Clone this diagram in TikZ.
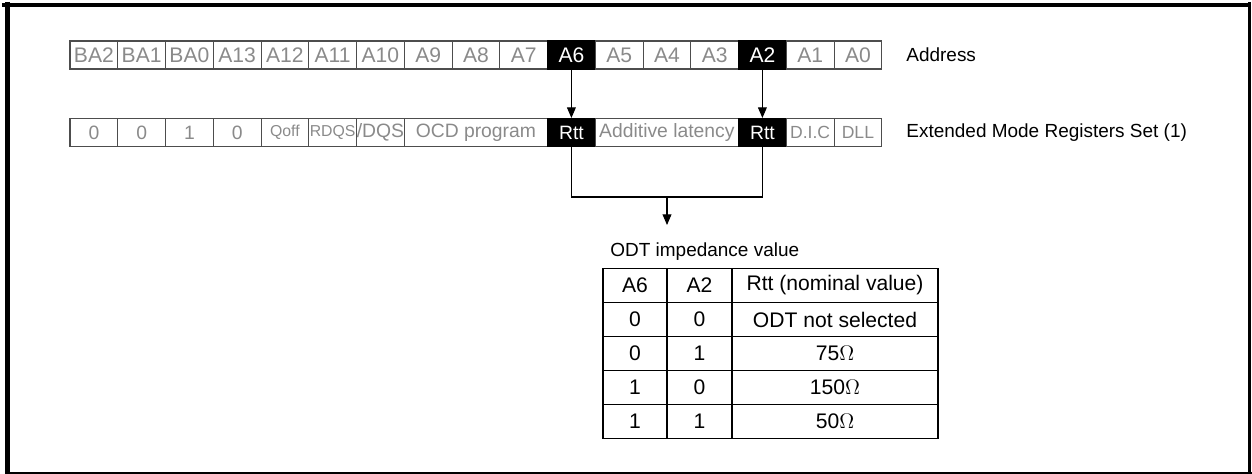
\documentclass[tikz,border=0pt]{standalone}
\usepackage{fontspec}
\setmainfont{Liberation Sans}
\usetikzlibrary{arrows.meta}
\definecolor{bitGray}{HTML}{8A8A8A}
\definecolor{cellLine}{HTML}{4D4D4D}
\tikzstyle{bit} = [rectangle, 
minimum width=0.955cm, 
minimum height=0.56cm,
inner sep=0pt,
text centered, 
draw=cellLine, line width=0.6pt,
text=bitGray,
font=\fontsize{12}{14}\selectfont]
\tikzstyle{bitOn} = [bit, 
fill=black, 
draw=black, 
text=white]
\tikzstyle{smallBit} = [bit, font=\fontsize{9}{10}\selectfont]
\tikzstyle{field} = [bit, minimum width=2.865cm, font=\fontsize{11}{13}\selectfont]
\tikzstyle{label} = [rectangle, inner sep=0pt, anchor=west,
font=\fontsize{10.8}{13}\selectfont]
\tikzstyle{tcell} = [rectangle, 
minimum width=1.29cm, 
minimum height=0.68cm,
inner sep=0pt,
text centered, 
draw=black, line width=0.8pt,
font=\fontsize{12}{14}\selectfont]
\tikzstyle{wcell} = [tcell, minimum width=4.12cm]
\tikzstyle{line} = [line width=0.6pt,-]
\tikzstyle{arrow} = [line width=0.6pt,-{Triangle[length=6pt,width=5pt]}]

\begin{document}
\begin{tikzpicture}[node distance=0.955cm]
\useasboundingbox (0,0) rectangle (25.04,-9.48);
% frame
\draw [line width=2.8pt] (0.15,-0.04) -- (0.15,-9.48);
\draw [line width=2.3pt] (0.04,-0.106) -- (25.02,-0.106);
\draw [line width=1.4pt] (24.99,-0.04) -- (24.99,-9.44);
\draw [line width=0.9pt] (0.1,-9.46) -- (25.03,-9.46);

% address bits
\node (ba2) [bit] at (1.878,-1.10) {BA2};
\node (ba1) [bit, right of=ba2] {BA1};
\node (ba0) [bit, right of=ba1] {BA0};
\node (a13) [bit, right of=ba0] {A13};
\node (a12) [bit, right of=a13] {A12};
\node (a11) [bit, right of=a12] {A11};
\node (a10) [bit, right of=a11] {A10};
\node (a9) [bit, right of=a10] {A9};
\node (a8) [bit, right of=a9] {A8};
\node (a7) [bit, right of=a8] {A7};
\node (a6) [bitOn, right of=a7] {A6};
\node (a5) [bit, right of=a6] {A5};
\node (a4) [bit, right of=a5] {A4};
\node (a3) [bit, right of=a4] {A3};
\node (a2) [bitOn, right of=a3] {A2};
\node (a1) [bit, right of=a2] {A1};
\node (a0) [bit, right of=a1] {A0};
\node (addr) [label] at (18.12,-1.10) {Address};

% extended mode register
\node (valBA2) [bit, below of=ba2, yshift=-0.595cm, font=\fontsize{11}{13}\selectfont] {0};
\node (valBA1) [bit, right of=valBA2, font=\fontsize{11}{13}\selectfont] {0};
\node (valBA0) [bit, right of=valBA1, font=\fontsize{11}{13}\selectfont] {1};
\node (valA13) [bit, right of=valBA0, font=\fontsize{11}{13}\selectfont] {0};
\node (qoff) [smallBit, right of=valA13] {Qoff};
\node (rdqs) [smallBit, right of=qoff] {RDQS};
\node (dqs) [bit, right of=rdqs, font=\fontsize{11}{13}\selectfont] {/DQS};
\node (ocd) [field, below of=a8, yshift=-0.595cm] {OCD program};
\node (rttA) [bitOn, below of=a6, yshift=-0.595cm, font=\fontsize{11}{13}\selectfont] {Rtt};
\node (addLat) [field, below of=a4, yshift=-0.595cm] {Additive latency};
\node (rttB) [bitOn, below of=a2, yshift=-0.595cm, font=\fontsize{11}{13}\selectfont] {Rtt};
\node (dic) [bit, right of=rttB, font=\fontsize{10}{12}\selectfont] {D.I.C};
\node (dll) [bit, right of=dic, font=\fontsize{10}{12}\selectfont] {DLL};
\node (emrs) [label] at (18.12,-2.66) {Extended Mode Registers Set (1)};

\coordinate (join) at (13.34,-3.94);
\coordinate (odtIn) at (13.34,-4.50);

% ODT table
\node (odt) [label] at (12.2,-5.04) {ODT impedance value};
\node (tA6) [tcell, minimum width=1.28cm] at (12.70,-5.71) {A6};
\node (tA2) [tcell, right of=tA6, node distance=1.29cm] {A2};
\node (tRtt) [wcell, right of=tA2, node distance=2.71cm] {Rtt (nominal value)};
\node (r1a) [tcell, minimum width=1.28cm, below of=tA6, node distance=0.68cm] {0};
\node (r1b) [tcell, below of=tA2, node distance=0.68cm] {0};
\node (r1c) [wcell, below of=tRtt, node distance=0.68cm] {ODT not selected};
\node (r2a) [tcell, minimum width=1.28cm, below of=r1a, node distance=0.68cm] {0};
\node (r2b) [tcell, below of=r1b, node distance=0.68cm] {1};
\node (r2c) [wcell, below of=r1c, node distance=0.68cm] {75$\Omega$};
\node (r3a) [tcell, minimum width=1.28cm, below of=r2a, node distance=0.68cm] {1};
\node (r3b) [tcell, below of=r2b, node distance=0.68cm] {0};
\node (r3c) [wcell, below of=r2c, node distance=0.68cm] {150$\Omega$};
\node (r4a) [tcell, minimum width=1.28cm, below of=r3a, node distance=0.68cm] {1};
\node (r4b) [tcell, below of=r3b, node distance=0.68cm] {1};
\node (r4c) [wcell, below of=r3c, node distance=0.68cm] {50$\Omega$};

\draw [arrow] (a6) -- (rttA);
\draw [arrow] (a2) -- (rttB);
\draw [line] (rttA.south) |- (join) -| (rttB.south);
\draw [arrow] (join) -- (odtIn);
\end{tikzpicture}
\end{document}
